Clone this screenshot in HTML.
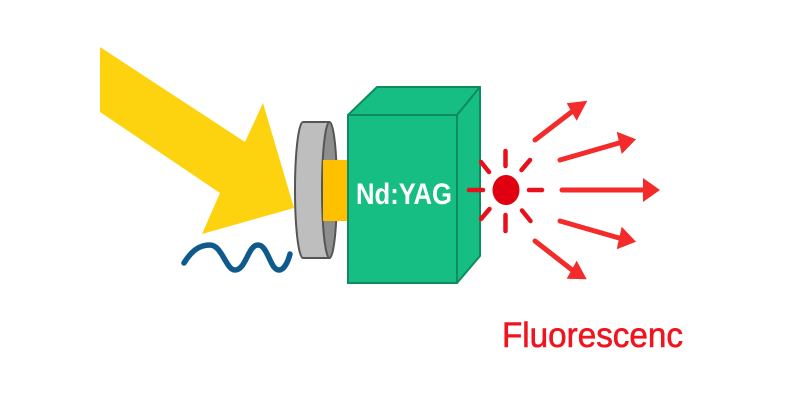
<!DOCTYPE html>
<html><head><meta charset="utf-8"><style>
html,body{margin:0;padding:0;background:#fff;}
svg{display:block;}
</style></head><body>
<svg width="800" height="400" viewBox="0 0 800 400" xmlns="http://www.w3.org/2000/svg">
<rect width="800" height="400" fill="#fff"/>
<!-- yellow arrow -->
<polygon points="100,47 245,142 263,103 294,208 202,234 220,193 100,112" fill="#FDD20E"/>
<!-- blue wave -->
<path d="M184,263 C192,250 200,245 210,245 C222,245 226,270 235,270 C246,270 248,245 258,245 C268,245 270,270 279,270 C284,270 288,262 290,254" fill="none" stroke="#0E5A8C" stroke-width="5.5" stroke-linecap="round"/>
<!-- mirror disk -->
<path d="M329,122 L303,122 A8,68 0 0 0 303,258 L329,258 Z" fill="#BEBEBE" stroke="#555" stroke-width="2"/>
<ellipse cx="329.5" cy="190" rx="7.5" ry="68" fill="#8E8E8E" stroke="#555" stroke-width="2"/>
<!-- orange rod -->
<rect x="323" y="160" width="26" height="61" fill="#FFC000"/>
<!-- green box -->
<polygon points="348,115 377,87 480,87 457,115" fill="#17BE84" stroke="#0E8B5F" stroke-width="2" stroke-linejoin="round"/>
<polygon points="457,115 480,87 480,256 457,283" fill="#17BE84" stroke="#0E8B5F" stroke-width="2" stroke-linejoin="round"/>
<rect x="348" y="115" width="109" height="168" fill="#17BE84" stroke="#0E8B5F" stroke-width="2"/>
<text x="356" y="204" font-family="Liberation Sans, Arial, sans-serif" font-weight="bold" font-size="30" fill="#fff" textLength="96" lengthAdjust="spacingAndGlyphs">Nd:YAG</text>
<!-- red source -->
<g stroke="#E8101C" stroke-width="4.5" stroke-linecap="round">
<line x1="505.5" y1="151" x2="505.5" y2="166"/>
<line x1="505.5" y1="215" x2="505.5" y2="231"/>
<line x1="469" y1="190" x2="483" y2="190"/>
<line x1="529" y1="190" x2="542" y2="190"/>
<line x1="481" y1="162" x2="489" y2="172"/>
<line x1="530" y1="160" x2="521.5" y2="170"/>
<line x1="481" y1="219" x2="489.5" y2="209"/>
<line x1="522" y1="210.5" x2="530.5" y2="221"/>
</g>
<ellipse cx="506" cy="190" rx="13.5" ry="15" fill="#E00010"/>
<!-- arrows -->
<g stroke="#F42B2B" stroke-width="5" stroke-linecap="round" fill="#F42B2B">
<line x1="535" y1="140" x2="571.5" y2="112"/>
<polygon stroke="none" points="587.3,100.7 566.7,103.3 576.7,120.7"/>
<line x1="560" y1="160" x2="619" y2="143"/>
<polygon stroke="none" points="636,139.3 616.7,131.7 621.7,154"/>
<line x1="562" y1="190" x2="644" y2="190"/>
<polygon stroke="none" points="660,190 643,178 643,202"/>
<line x1="560" y1="221" x2="619" y2="238"/>
<polygon stroke="none" points="636,241.7 621.7,226.7 616.7,249.3"/>
<line x1="535" y1="241" x2="571.5" y2="269.5"/>
<polygon stroke="none" points="586.7,279.3 576.7,260.7 566.7,278.7"/>
</g>
<text x="502" y="347" font-family="Liberation Sans, Arial, sans-serif" font-size="35" fill="#F0141E" stroke="#F0141E" stroke-width="0.6" textLength="181" lengthAdjust="spacingAndGlyphs">Fluorescenc</text>
</svg>
</body></html>
